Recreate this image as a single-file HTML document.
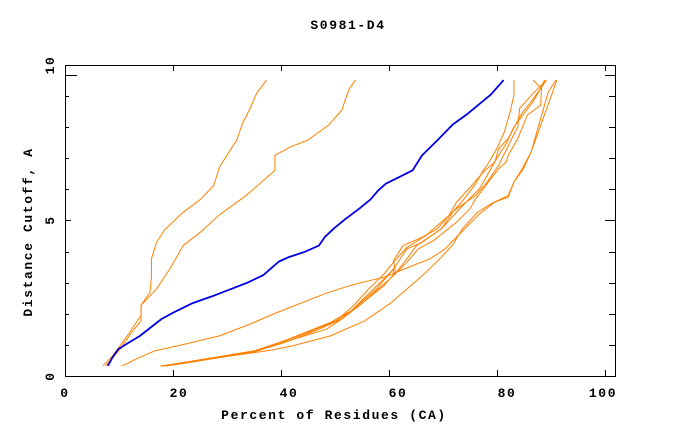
<!DOCTYPE html>
<html><head><style>
html,body{margin:0;padding:0;background:#fff;}
svg{display:block;}
text{font-family:"Liberation Mono",monospace;font-weight:bold;fill:#000;letter-spacing:1.6px;}
</style></head><body>
<svg width="680" height="440" viewBox="0 0 680 440" xmlns="http://www.w3.org/2000/svg">
<text x="348" y="29" font-size="13" text-anchor="middle">S0981-D4</text>
<rect x="65.5" y="65.5" width="550" height="311" fill="none" stroke="#000" stroke-width="1"/>
<g stroke="#000" stroke-width="1">
<line x1="65" y1="376.5" x2="71" y2="376.5"/><line x1="65" y1="345.5" x2="69" y2="345.5"/><line x1="65" y1="314.5" x2="69" y2="314.5"/><line x1="65" y1="283.5" x2="69" y2="283.5"/><line x1="65" y1="252.5" x2="69" y2="252.5"/><line x1="65" y1="220.5" x2="71" y2="220.5"/><line x1="65" y1="189.5" x2="69" y2="189.5"/><line x1="65" y1="158.5" x2="69" y2="158.5"/><line x1="65" y1="127.5" x2="69" y2="127.5"/><line x1="65" y1="96.5" x2="69" y2="96.5"/><line x1="65" y1="75.5" x2="77" y2="75.5"/>
<line x1="609" y1="345.5" x2="615" y2="345.5"/><line x1="609" y1="314.5" x2="615" y2="314.5"/><line x1="609" y1="283.5" x2="615" y2="283.5"/><line x1="609" y1="252.5" x2="615" y2="252.5"/><line x1="605" y1="220.5" x2="615" y2="220.5"/><line x1="609" y1="189.5" x2="615" y2="189.5"/><line x1="609" y1="158.5" x2="615" y2="158.5"/><line x1="609" y1="127.5" x2="615" y2="127.5"/><line x1="609" y1="96.5" x2="615" y2="96.5"/><line x1="605" y1="75.5" x2="615" y2="75.5"/>
<line x1="173.5" y1="376" x2="173.5" y2="370"/><line x1="281.5" y1="376" x2="281.5" y2="370"/><line x1="389.5" y1="376" x2="389.5" y2="370"/><line x1="497.5" y1="376" x2="497.5" y2="370"/><line x1="605.5" y1="376" x2="605.5" y2="370"/>
<line x1="173.5" y1="65" x2="173.5" y2="71"/><line x1="281.5" y1="65" x2="281.5" y2="71"/><line x1="389.5" y1="65" x2="389.5" y2="71"/><line x1="497.5" y1="65" x2="497.5" y2="71"/><line x1="605.5" y1="65" x2="605.5" y2="71"/>
</g>
<g font-size="13" text-anchor="middle">
<text x="65" y="397">0</text><text x="179" y="397">20</text><text x="289" y="397">40</text><text x="398" y="397">60</text><text x="507" y="397">80</text><text x="603" y="397">100</text>
<text x="334" y="419">Percent of Residues (CA)</text>
</g>
<g font-size="13" text-anchor="middle">
<text transform="translate(54,376) rotate(-90)">0</text>
<text transform="translate(54,220) rotate(-90)">5</text>
<text transform="translate(54,65) rotate(-90)">10</text>
<text transform="translate(32,232) rotate(-90)">Distance Cutoff, A</text>
</g>
<g transform="translate(65,65) scale(0.3824,0.3344) translate(-66,-30)" fill="none" stroke-linejoin="round">
<g stroke="#ff8000" stroke-width="1" vector-effect="non-scaling-stroke">
<polyline vector-effect="non-scaling-stroke" points="165,930 190,900 215,862 235,830 258,790 265,780 265,748 288,710 292,665 292,610 305,562 325,525 370,475 420,432 455,390 470,335 495,290 515,255 530,205 550,160 567,115 593,75"/>
<polyline vector-effect="non-scaling-stroke" points="172,930 210,880 240,830 265,795 265,748 305,700 340,640 375,570 420,530 470,478 540,420 615,345 615,300 655,275 700,255 755,210 790,165 800,130 810,100 826,75"/>
<polyline vector-effect="non-scaling-stroke" points="215,930 260,905 300,885 360,870 470,840 520,818 560,800 610,775 670,748 750,712 810,690 850,678 900,665 975,630 1020,610 1060,580 1085,550 1120,510 1150,475 1190,440 1225,425 1240,380 1265,340 1285,290 1300,230 1315,170 1330,110 1350,75"/>
<polyline vector-effect="non-scaling-stroke" points="315,930 380,920 470,905 560,888 640,860 720,825 790,790 830,750 880,700 925,640 960,580 1000,560 1050,520 1080,470 1110,430 1140,385 1160,345 1175,320 1195,280 1215,230 1230,170 1240,120 1240,75"/>
<polyline vector-effect="non-scaling-stroke" points="330,930 400,918 480,903 560,890 610,882 660,870 760,840 850,795 920,740 970,690 1010,650 1050,605 1080,568 1105,520 1145,470 1180,445 1225,420 1240,380 1262,340 1285,290 1310,210 1340,115 1352,75"/>
<polyline vector-effect="non-scaling-stroke" points="320,930 560,888 650,855 750,820 790,790 840,745 900,690 930,650 925,615 950,570 1000,545 1040,520 1070,480 1090,440 1130,390 1160,350 1190,320 1200,280 1225,250 1260,175 1285,140 1310,100 1325,75"/>
<polyline vector-effect="non-scaling-stroke" points="320,930 560,885 640,855 710,825 775,795 820,750 860,700 900,655 925,620 960,575 1010,540 1050,500 1090,460 1140,420 1170,380 1200,330 1228,265 1250,215 1255,160 1290,115 1325,75"/>
<polyline vector-effect="non-scaling-stroke" points="320,930 560,888 650,850 760,800 830,755 885,700 925,660 960,610 985,570 1005,555 1050,520 1090,470 1115,440 1150,400 1175,350 1200,300 1220,265 1240,215 1290,140 1310,100 1320,75"/>
<polyline vector-effect="non-scaling-stroke" points="320,930 560,888 700,830 775,795 810,770 850,725 900,670 925,640 925,660 960,620 990,580 1030,555 1090,500 1125,460 1140,430 1170,385 1200,340 1220,320 1225,300 1250,250 1275,180 1310,150 1312,100 1290,75"/>
</g>
<polyline vector-effect="non-scaling-stroke" stroke="#0000e0" stroke-width="1.8" points="178,930 190,905 205,880 230,862 262,840 290,815 318,790 350,770 400,742 450,722 500,700 545,680 585,658 605,638 625,618 650,605 690,590 730,570 745,545 770,518 800,490 835,460 865,432 885,405 905,385 940,365 975,345 1000,300 1040,255 1080,208 1120,175 1180,118 1213,75"/>
</g>
</svg>
</body></html>
